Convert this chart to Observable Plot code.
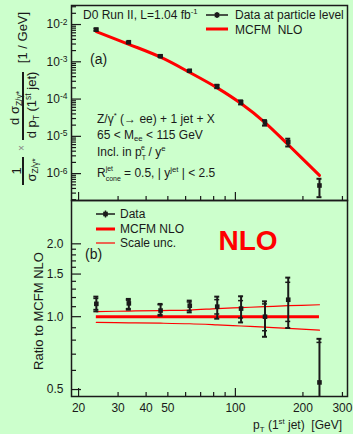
<!DOCTYPE html>
<html><head><meta charset="utf-8">
<script src="https://cdn.jsdelivr.net/npm/d3@7"></script>
<script src="https://cdn.jsdelivr.net/npm/@observablehq/plot@0.6"></script>
<style>
body{margin:0;background:#ccffcc;}
#chart{width:353px;height:434px;background:#ccffcc;font-family:"Liberation Sans",Arial,sans-serif;}
#chart svg{display:block;overflow:visible;}
</style></head><body><div id="chart"></div>
<script>
// ---- data ----
const ptBins = [24, 33.5, 46.4, 62.6, 83, 106, 135.5, 172, 237];
const dataXsec = [7.3e-3, 3.35e-3, 1.41e-3, 5.75e-4, 2.2e-4, 8.2e-5, 2.35e-5, 7.0e-6, 4.8e-7];
const mcfmNlo = [6.46e-3, 2.95e-3, 1.33e-3, 5.18e-4, 2.0e-4, 7.6e-5, 2.35e-5, 5.96e-6, 8.97e-7];
const ratio = [1.13, 1.135, 1.06, 1.11, 1.10, 1.08, 1.00, 1.175, 0.535];
const ratioTotHi = [1.21, 1.184, 1.129, 1.165, 1.21, 1.214, 1.157, 1.45, 0.81];
const ratioTotLo = [1.052, 1.069, 1.01, 1.042, 0.981, 0.947, 0.826, 0.898, 0.26];
const ratioStatHi = [1.19, 1.17, 1.12, 1.15, 1.176, 1.165, 1.129, 1.387, 0.783];
const ratioStatLo = [1.07, 1.08, 1.02, 1.06, 1.026, 0.988, 0.875, 0.956, 0.30];
const scaleUp = [1.05, 1.055, 1.06, 1.065, 1.08, 1.09, 1.10, 1.11, 1.12];
const scaleDown = [0.947, 0.943, 0.94, 0.935, 0.925, 0.915, 0.905, 0.895, 0.88];
const xTickLabels = [20, 30, 40, 50, 100, 200, 300];
const xTicksMajor = [20, 100];
const xTicksMinor = [30, 40, 50, 60, 70, 80, 90, 200, 300];
const yTickLabelsTop = [1e-2, 1e-3, 1e-4, 1e-5, 1e-6];
const yTickLabelsBottom = [0.5, 1.0, 1.5, 2.0];
const yTicksMinorBottom = [0.6, 0.7, 0.8, 0.9, 1.1, 1.2, 1.3, 1.4, 1.6, 1.7, 1.8, 1.9];

// ---- layout ----
const W = 353, ML = 71, MR = 6;
const frameW = W - ML - MR;
const topFrameH = 195, botFrameH = 196;
const xDomain = [18.6, 316];
const yDomTop = [1.9e-7, 3.24e-2];
const yDomBot = [0.468, 3.02];
const ink = "#1a1a1a";

const yTicksMinorTop = [];
for (let e = -7; e <= -2; e++) for (let m = 2; m <= 9; m++) {
  const v = m * Math.pow(10, e);
  if (v > yDomTop[0] && v < yDomTop[1]) yTicksMinorTop.push(v);
}

const upper = ptBins.map((pt, i) => ({
  pt, v: dataXsec[i],
  lo: dataXsec[i] * ratioTotLo[i] / ratio[i],
  hi: dataXsec[i] * ratioTotHi[i] / ratio[i]
}));
const theory = ptBins.map((pt, i) => ({pt, v: mcfmNlo[i]}));
const lower = ptBins.map((pt, i) => ({
  pt, r: ratio[i], lo: ratioTotLo[i], hi: ratioTotHi[i], slo: ratioStatLo[i], shi: ratioStatHi[i],
  up: scaleUp[i], dn: scaleDown[i]
}));

const baseStyle = {background: "none", fontFamily: '"Liberation Sans", Arial, sans-serif', fontSize: "12px", color: ink, overflow: "visible"};

const capMarks = (data, key, w, sw, clip) =>
  Plot.ruleY(data, {y: key, x1: "pt", x2: "pt", insetLeft: -w, insetRight: -w, stroke: ink, strokeWidth: sw, clip});

const topPlot = Plot.plot({
  width: W, height: 200, marginLeft: ML, marginRight: MR, marginTop: 5, marginBottom: 0,
  style: baseStyle,
  x: {type: "log", domain: xDomain, axis: null},
  y: {type: "log", domain: yDomTop, axis: null},
  marks: [
    Plot.axisY({ticks: yTickLabelsTop, anchor: "left", tickSize: 0, tickPadding: 4, label: null,
      fontSize: 12, tickFormat: d => "10^" + Math.round(Math.log10(d))}),
    Plot.tickY(yTicksMinorTop, {y: d => d, insetRight: frameW - 5, stroke: ink, strokeWidth: 1.2}),
    Plot.tickY(yTickLabelsTop, {y: d => d, insetRight: frameW - 10, stroke: ink, strokeWidth: 1.2}),
    Plot.tickX(xTicksMinor, {x: d => d, insetTop: topFrameH - 4, stroke: ink, strokeWidth: 1.2}),
    Plot.tickX(xTicksMajor, {x: d => d, insetTop: topFrameH - 8, stroke: ink, strokeWidth: 1.2}),
    Plot.line(theory, {x: "pt", y: "v", stroke: "#ff0000", strokeWidth: 3, curve: "catmull-rom"}),
    Plot.ruleX(upper, {x: "pt", y1: "lo", y2: "hi", stroke: ink, strokeWidth: 2}),
    capMarks(upper, "lo", 2.5, 2),
    capMarks(upper, "hi", 2.5, 2),
    Plot.dot(upper, {x: "pt", y: "v", symbol: "square", fill: ink, r: 2.6}),
    Plot.frame({stroke: ink, strokeWidth: 1.5})
  ]
});

const botPlot = Plot.plot({
  width: W, height: 234, marginLeft: ML, marginRight: MR, marginTop: 0, marginBottom: 38,
  style: baseStyle,
  x: {type: "log", domain: xDomain, axis: null},
  y: {type: "log", domain: yDomBot, axis: null},
  marks: [
    Plot.axisY({ticks: yTickLabelsBottom, anchor: "left", tickSize: 0, tickPadding: 8, label: null,
      fontSize: 12, tickFormat: d3.format(".1f")}),
    Plot.axisX({ticks: xTickLabels, anchor: "bottom", tickSize: 0, tickPadding: 7, label: null,
      fontSize: 12, tickFormat: d => String(d)}),
    Plot.tickY(yTicksMinorBottom, {y: d => d, insetRight: frameW - 5, stroke: ink, strokeWidth: 1.2}),
    Plot.tickY(yTickLabelsBottom, {y: d => d, insetRight: frameW - 10, stroke: ink, strokeWidth: 1.2}),
    Plot.tickX(xTicksMinor, {x: d => d, insetTop: botFrameH - 4, stroke: ink, strokeWidth: 1.2}),
    Plot.tickX(xTicksMajor, {x: d => d, insetTop: botFrameH - 8, stroke: ink, strokeWidth: 1.2}),
    Plot.line(lower, {x: "pt", y: "up", stroke: "#ff0000", strokeWidth: 1.2, curve: "catmull-rom"}),
    Plot.line(lower, {x: "pt", y: "dn", stroke: "#ff0000", strokeWidth: 1.2, curve: "catmull-rom"}),
    Plot.ruleY([1], {x1: ptBins[0], x2: ptBins[ptBins.length - 1], stroke: "#ff0000", strokeWidth: 3}),
    Plot.ruleX(lower, {x: "pt", y1: "lo", y2: "hi", stroke: ink, strokeWidth: 2, clip: true}),
    capMarks(lower, "lo", 2.5, 2, true),
    capMarks(lower, "hi", 2.5, 2, true),
    capMarks(lower, "slo", 2.5, 1.5, true),
    capMarks(lower, "shi", 2.5, 1.5, true),
    Plot.dot(lower, {x: "pt", y: "r", symbol: "square", fill: ink, r: 2.6}),
    Plot.frame({stroke: ink, strokeWidth: 1.5})
  ]
});

const chart = document.getElementById("chart");
chart.appendChild(topPlot);
chart.appendChild(botPlot);

// superscript exponents on the top y tick labels
d3.select(topPlot).selectAll('g[aria-label="y-axis tick label"] text').each(function () {
  const [b, e] = this.textContent.split("^");
  const t = d3.select(this);
  t.text(null);
  t.append("tspan").text(b);
  t.append("tspan").attr("dy", "-0.45em").attr("font-size", "8.5px").text(e);
});

// rich text helper
function rich(parent, x, y, parts, o = {}) {
  const size = o.size || 12;
  const small = 0.65 * size, tiny = 0.58 * size;
  const g = parent.append("text")
    .attr("transform", `translate(${x},${y}) rotate(${o.rotate || 0})`)
    .attr("font-size", size).attr("fill", o.fill || ink)
    .attr("text-anchor", o.anchor || "start")
    .attr("font-weight", o.weight || null)
    .style("white-space", "pre");
  let cur = 0, pendingDx = 0;
  for (const p of parts) {
    const [s, kind, s2] = Array.isArray(p) ? p : [p];
    if (kind === "subsup") {
      const off1 = 0.32 * size, off2 = -0.46 * size;
      const a = g.append("tspan").attr("dy", off1 - cur).attr("font-size", tiny).text(s);
      if (pendingDx) a.attr("dx", pendingDx);
      const L1 = a.node().getComputedTextLength();
      const b = g.append("tspan").attr("dy", off2 - off1).attr("dx", -L1).attr("font-size", tiny).text(s2);
      const L2 = b.node().getComputedTextLength();
      pendingDx = Math.max(0, L1 - L2);
      cur = off2;
    } else {
      const off = kind === "sup" ? -0.38 * size : kind === "sub" ? 0.22 * size : 0;
      const t = g.append("tspan").attr("dy", off - cur).attr("font-size", kind ? small : size).text(s);
      if (pendingDx) { t.attr("dx", pendingDx); pendingDx = 0; }
      cur = off;
    }
  }
  return g;
}

// ---- upper panel annotations ----
const T = d3.select(topPlot);
rich(T, 83, 19, ["D0 Run II, L=1.04 fb", ["-1", "sup"]]);
rich(T, 90, 64, ["(a)"], {size: 14});
// legend
T.append("line").attr("x1", 206).attr("x2", 228).attr("y1", 15).attr("y2", 15).attr("stroke", ink).attr("stroke-width", 1.5);
T.append("line").attr("x1", 217).attr("x2", 217).attr("y1", 12).attr("y2", 18).attr("stroke", ink).attr("stroke-width", 1.5);
T.append("rect").attr("x", 214.7).attr("y", 12.7).attr("width", 4.6).attr("height", 4.6).attr("fill", ink);
rich(T, 235, 19, ["Data at particle level"]);
T.append("line").attr("x1", 206).attr("x2", 228).attr("y1", 29).attr("y2", 29).attr("stroke", "#ff0000").attr("stroke-width", 3);
rich(T, 235, 34, ["MCFM  NLO"]);
rich(T, 97, 123, ["Z/γ", ["*", "sup"], " (→ ee) + 1 jet + X"]);
rich(T, 97, 138.5, ["65 < M", ["ee", "sub"], " < 115 GeV"]);
rich(T, 97, 156, ["Incl. in p", ["T", "subsup", "e"], " / y", ["e", "sup"]]);
rich(T, 97, 177, ["R", ["cone", "subsup", "jet"], " = 0.5, | y", ["jet", "sup"], " | < 2.5"]);
// y axis title (fraction)
rich(T, 27, 37.5, ["[1 / GeV]"], {size: 13, rotate: -90, anchor: "middle"});
rich(T, 19, 108, ["d σ", ["Z/γ*", "sub"]], {size: 13, rotate: -90, anchor: "middle"});
T.append("line").attr("x1", 23).attr("x2", 23).attr("y1", 72).attr("y2", 140).attr("stroke", ink).attr("stroke-width", 2);
rich(T, 36, 105, ["d p", ["T", "sub"], " (1", ["st", "sup"], " jet)"], {size: 13, rotate: -90, anchor: "middle"});
rich(T, 25, 148, ["×"], {size: 10, rotate: -90, anchor: "middle", fill: "#888"});
rich(T, 21, 171, ["1"], {size: 13, rotate: -90, anchor: "middle"});
T.append("line").attr("x1", 23).attr("x2", 23).attr("y1", 157).attr("y2", 185).attr("stroke", ink).attr("stroke-width", 2);
rich(T, 35.5, 170, ["σ", ["Z/γ*", "sub"]], {size: 13, rotate: -90, anchor: "middle"});

// ---- lower panel annotations (origin at y=200) ----
const B = d3.select(botPlot);
B.append("line").attr("x1", 96).attr("x2", 115).attr("y1", 14).attr("y2", 14).attr("stroke", ink).attr("stroke-width", 1.5);
B.append("line").attr("x1", 105.5).attr("x2", 105.5).attr("y1", 10.5).attr("y2", 17.5).attr("stroke", ink).attr("stroke-width", 1.5);
B.append("rect").attr("x", 103.2).attr("y", 11.7).attr("width", 4.6).attr("height", 4.6).attr("fill", ink);
rich(B, 120, 18, ["Data"]);
B.append("line").attr("x1", 96).attr("x2", 115).attr("y1", 29).attr("y2", 29).attr("stroke", "#ff0000").attr("stroke-width", 3);
rich(B, 120, 33, ["MCFM NLO"]);
B.append("line").attr("x1", 96).attr("x2", 115).attr("y1", 43).attr("y2", 43).attr("stroke", "#ff0000").attr("stroke-width", 1.2);
rich(B, 120, 47, ["Scale unc."]);
rich(B, 85, 59, ["(b)"], {size: 14});
rich(B, 248, 50, ["NLO"], {size: 28, anchor: "middle", weight: "bold", fill: "#ff0000"});
rich(B, 43, 111, ["Ratio to MCFM NLO"], {size: 13, rotate: -90, anchor: "middle"});
rich(B, 342, 229, ["p", ["T", "sub"], " (1", ["st", "sup"], " jet)  [GeV]"], {anchor: "end"});
</script></body></html>
